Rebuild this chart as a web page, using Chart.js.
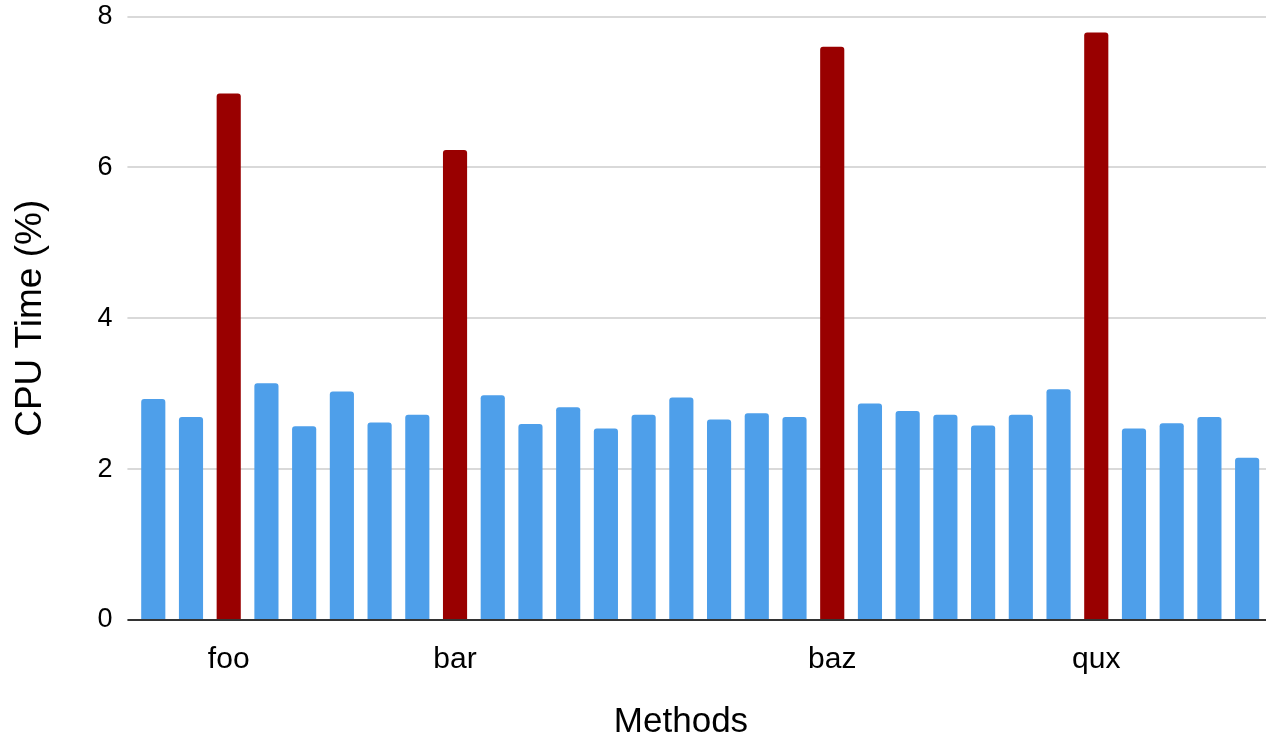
<!DOCTYPE html>
<html>
<head>
<meta charset="utf-8">
<script src="https://cdn.jsdelivr.net/npm/chart.js@4"></script>
<style>
  html, body { margin: 0; padding: 0; background: #fff; }
  #wrap { width: 1277px; height: 746px; }
</style>
</head>
<body>
<div id="wrap"><canvas id="chart"></canvas></div>
<script>
// tick labels under the bars (only four are named)
const methods = ['', '', 'foo', '', '', '', '', '', 'bar', '', '', '', '', '', '', '',
    '', '', 'baz', '', '', '', '', '', '', 'qux', '', '', '', ''];

// CPU time per method (%)
const cpuTime = [2.93, 2.69, 6.98, 3.14, 2.57, 3.03, 2.62, 2.72, 6.23, 2.98,
    2.60, 2.82, 2.54, 2.72, 2.95, 2.66, 2.74, 2.69, 7.60, 2.87,
    2.77, 2.72, 2.58, 2.72, 3.06, 7.79, 2.54, 2.61, 2.69, 2.15];

// highlighted methods
const hot = ['foo', 'bar', 'baz', 'qux'];

const yTicks = [0, 2, 4, 6, 8];

const barColors = methods.map(m => hot.includes(m) ? '#990000' : '#4e9fea');

const font = 'Liberation Sans, Arial, sans-serif';

// x axis title sits a bit left of the plot centre in the original
const xTitle = {
    id: 'xTitle',
    afterDraw(chart) {
        const c = chart.ctx;
        const a = chart.chartArea;
        c.save();
        c.font = '35px ' + font;
        c.fillStyle = '#000';
        c.textAlign = 'center';
        c.textBaseline = 'middle';
        c.fillText('Methods', a.left + (a.right - a.left) * 0.483, a.bottom + 102);
        c.restore();
    }
};

const ctx = document.getElementById('chart').getContext('2d');
new Chart(ctx, {
    type: 'bar',
    data: {
        labels: methods,
        datasets: [{
            label: 'CPU Time (%)',
            data: cpuTime,
            backgroundColor: barColors,
            borderRadius: { topLeft: 3, topRight: 3 },
            borderSkipped: 'bottom',
            barPercentage: 0.64,
            categoryPercentage: 1
        }]
    },
    plugins: [xTitle],
    options: {
        responsive: true,
        maintainAspectRatio: false,
        animation: false,
        layout: { padding: { top: 0, right: 11, left: 9, bottom: 46 } },
        plugins: {
            legend: { display: false },
            tooltip: { enabled: false }
        },
        scales: {
            x: {
                grid: { display: false, drawTicks: false },
                border: { display: false },
                ticks: {
                    autoSkip: false,
                    maxRotation: 0,
                    padding: 22,
                    color: '#000',
                    font: { family: font, size: 30 }
                }
            },
            y: {
                min: 0,
                max: 8,
                afterBuildTicks: axis => {
                    axis.ticks = yTicks.map(v => ({ value: v }));
                },
                grid: {
                    color: c => c.tick && c.tick.value === 0 ? '#333' : '#d9d9d9',
                    tickColor: c => c.tick && c.tick.value === 0 ? '#333' : '#d9d9d9',
                    lineWidth: 2,
                    tickLength: 7
                },
                border: { display: false },
                ticks: {
                    padding: 15,
                    color: '#000',
                    font: { family: font, size: 27, lineHeight: 0.12 }
                },
                title: {
                    display: true,
                    text: 'CPU Time (%)',
                    color: '#000',
                    padding: { top: 0, bottom: 29 },
                    font: { family: font, size: 37 }
                }
            }
        }
    }
});
</script>
</body>
</html>
